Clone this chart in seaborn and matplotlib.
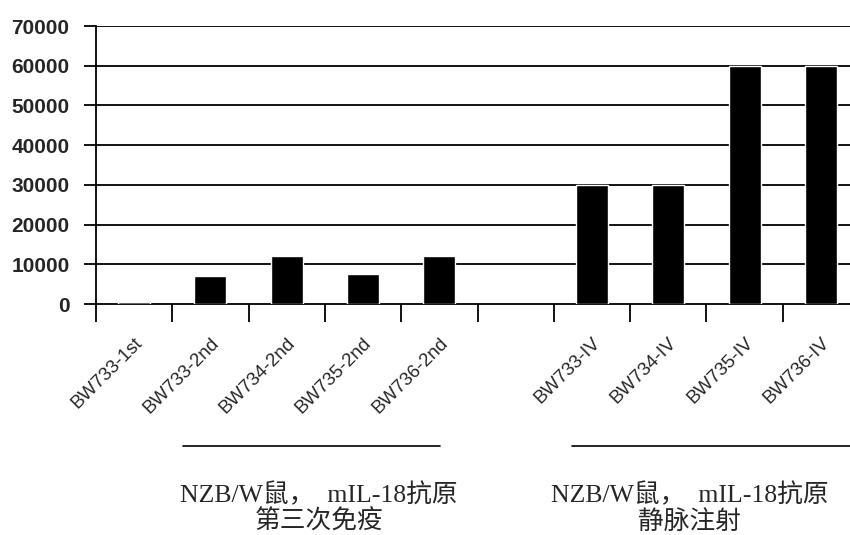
import matplotlib
matplotlib.use("Agg")
import matplotlib.pyplot as plt
import matplotlib.transforms as mtransforms
import seaborn as sns
import pandas as pd

# data
samples = ["BW733-1st", "BW733-2nd", "BW734-2nd", "BW735-2nd", "BW736-2nd",
           "BW733-IV", "BW734-IV", "BW735-IV", "BW736-IV"]
titers = [400, 7000, 12000, 7600, 12000, 30000, 30000, 60000, 60000]
# empty slot between the two groups
order = samples[:5] + [" "] + samples[5:]
group_labels = ["NZB/W鼠，  mIL-18抗原\n第三次免疫",
                "NZB/W鼠，  mIL-18抗原\n静脉注射"]
yticks = list(range(0, 70001, 10000))

df = pd.DataFrame({"sample": samples, "titer": titers})

sns.set_style("white")
plt.rcParams["font.family"] = ["Liberation Sans", "DejaVu Sans"]

fig = plt.figure(figsize=(8.5, 5.35), dpi=100)
ax = fig.add_axes([96 / 850, 1 - 304 / 535, 763 / 850, 278 / 535])

sns.barplot(data=df, x="sample", y="titer", order=order, color="black",
            width=0.42, saturation=1, ax=ax, zorder=3)

ax.set_xlim(-0.5, len(order) - 0.5)
ax.set_ylim(0, 70000)
ax.set_yticks(yticks)
ax.set_yticklabels([str(v) for v in yticks], fontsize=15, fontweight="bold")
for v in yticks[1:]:
    ax.axhline(v, color="black", lw=1.3, zorder=1)

ax.set_xlabel("")
ax.set_ylabel("")
ax.set_xticks(range(len(order)))
ax.set_xticklabels(order, rotation=45, ha="right", fontsize=13.5)
ax.set_xticks([i - 0.5 for i in range(len(order) + 1)], minor=True)
ax.tick_params(axis="x", which="major", length=0, pad=22)
ax.tick_params(axis="x", which="minor", length=13, width=1.3, color="black",
               direction="out", bottom=True)
ax.tick_params(axis="y", length=9, width=1.3, color="black", direction="out",
               left=True, pad=10)

# shift labels a little to the right, as in the original
shift = mtransforms.ScaledTranslation(12 / 100, 0, fig.dpi_scale_trans)
for lab in ax.get_xticklabels():
    lab.set_transform(lab.get_transform() + shift)

for side in ["top", "right"]:
    ax.spines[side].set_visible(False)
for side in ["left", "bottom"]:
    ax.spines[side].set_color("black")
    ax.spines[side].set_linewidth(1.3)

# group brackets and captions below the axis
trans = mtransforms.blended_transform_factory(ax.transData, fig.transFigure)
y_line = 1 - 446 / 535
ax.plot([0.64, 4.01], [y_line, y_line], color="black", lw=1.2,
        transform=trans, clip_on=False)
ax.plot([5.74, 9.6], [y_line, y_line], color="black", lw=1.2,
        transform=trans, clip_on=False)
for xc, lab in zip([2.42, 7.28], group_labels):
    ax.text(xc, 1 - 508 / 535, lab, transform=trans, ha="center", va="center",
            fontsize=18.5, linespacing=1.15,
            family=["Liberation Serif", "Noto Sans CJK SC"])

fig.savefig("out.png", dpi=100)
